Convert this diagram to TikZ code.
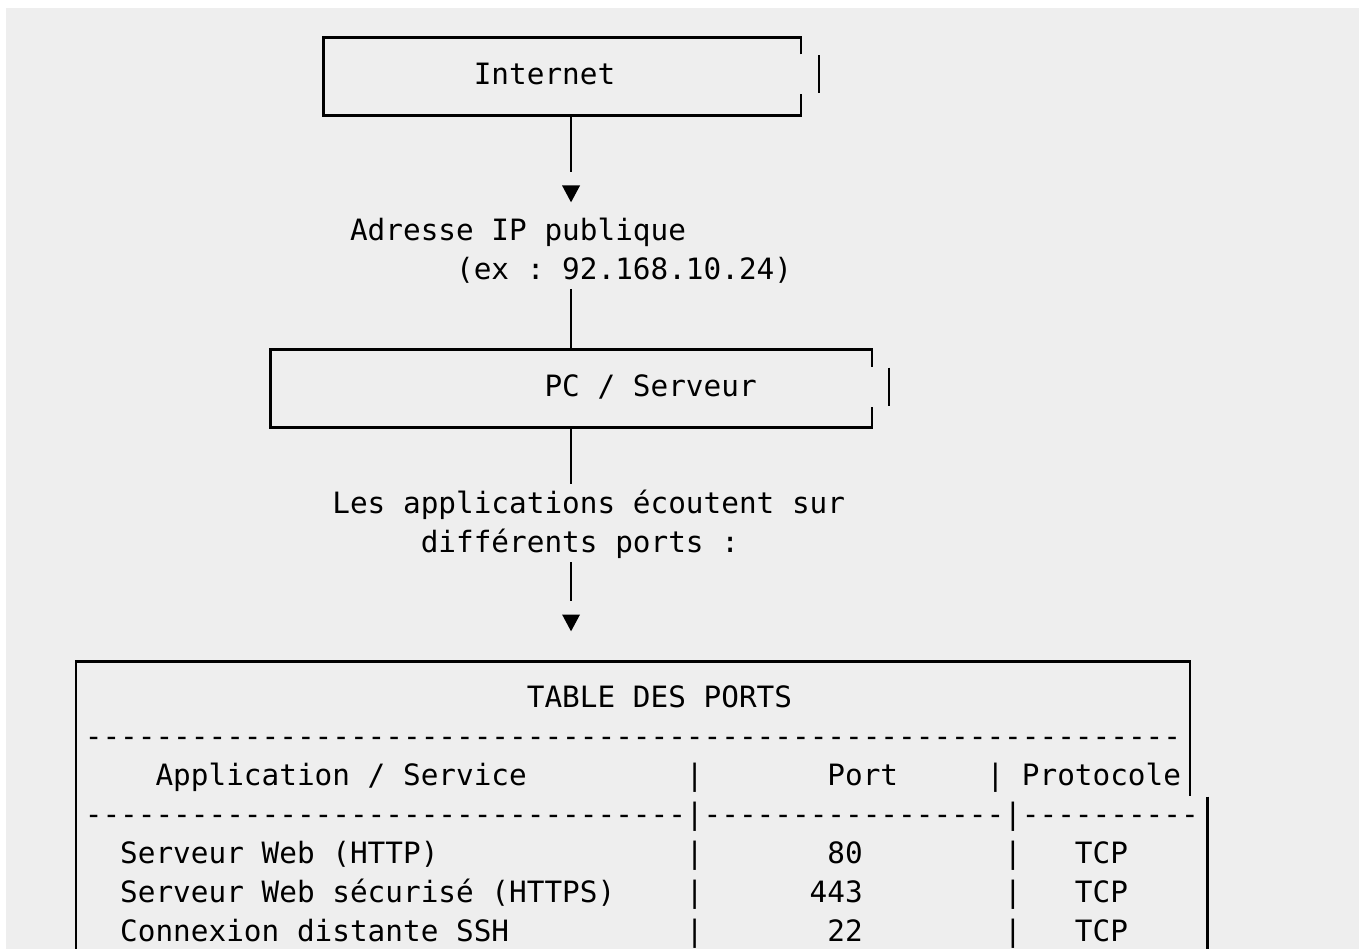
\documentclass[tikz,border=0pt]{standalone}
\usepackage{fontspec}
\setmonofont{DejaVu Sans Mono}[Ligatures=TeXOff]
\usetikzlibrary{calc}
\definecolor{bgray}{HTML}{EEEEEE}
\begin{document}
\begin{tikzpicture}[x=1pt,y=-1pt,
  boxline/.style={line width=2.1pt, line cap=butt, line join=miter, draw=black},
  conn/.style={line width=2.1pt, draw=black},
  monofont/.style={font=\ttfamily\fontsize{29.37}{39}\selectfont},
  txt/.style={monofont, anchor=base west, inner sep=0pt, outer sep=0pt, text=black},
  boxframe/.style={draw=none, rectangle, inner sep=0pt, outer sep=0pt},
  arrowfill/.style={fill=black}]
\useasboundingbox (0,0) rectangle (1359,949);
\fill[white] (0,0) rectangle (1359,949);
\fill[bgray] (6,8) rectangle (1359,949);

% ---- Internet box
\node[boxframe, minimum width=477.36pt, minimum height=78pt] (internet) at (562.2,76.5) {};
\node[txt] (tinternet) at (473.80,84.65) {Internet};
\draw[boxline] ($(internet.north east)+(0,17)$) -- (internet.north east) -- (internet.north west)
  -- (internet.south west) -- (internet.south east) -- ($(internet.south east)+(0,-21)$);
\draw[boxline] (818.56,55.5) -- (818.56,93.5);

% ---- connector 1
\coordinate (a1) at (571.04,172);
\draw[conn] (a1 |- internet.south) -- (a1);
\fill[arrowfill] (562.04,185.5) -- (580.04,185.5) -- (571.04,202.3) -- cycle;

\node[txt] (ip) at (350.04,240.45) {Adresse IP publique};
\node[txt] (ipex) at (456.12,279.4) {(ex : 92.168.10.24)};

% ---- PC box
\node[boxframe, minimum width=601.12pt, minimum height=78pt] (pc) at (571.04,388.5) {};
\coordinate (a2) at (571.04,289);
\draw[conn] (a2) -- (a2 |- pc.north);
\node[txt] (tpc) at (544.52,396.25) {PC / Serveur};
\draw[boxline] ($(pc.north east)+(0,17)$) -- (pc.north east) -- (pc.north west)
  -- (pc.south west) -- (pc.south east) -- ($(pc.south east)+(0,-21)$);
\draw[boxline] (889.28,367.5) -- (889.28,405.5);

% ---- connector 2
\coordinate (a3) at (571.04,484);
\draw[conn] (pc.south) -- (a3);
\node[txt] (apps1) at (332.36,513.1) {Les applications écoutent sur};
\node[txt] (apps2) at (420.76,552.05) {différents ports :};
\coordinate (a4) at (571.04,562);
\coordinate (a5) at (571.04,601);
\draw[conn] (a4) -- (a5);
\fill[arrowfill] (562.04,614.5) -- (580.04,614.5) -- (571.04,631.3) -- cycle;

% ---- Table
\node[boxframe, minimum width=1113.84pt, minimum height=287.5pt] (ports) at (632.92,805.25) {};
\draw[boxline] (ports.south west) -- (ports.north west) -- (ports.north east) -- ($(ports.north east)+(0,134)$);
\coordinate (rb) at (1207.52,796.5);
\draw[boxline] (rb) -- (rb |- ports.south);

\node[txt] (ttitle) at (526.84,707.85) {TABLE DES PORTS};
\node[txt] (dash1) at (84.84,746.8) {--------------------------------------------------------------};
\node[txt] (happ) at (155.56,785.75) {Application / Service};
\node[txt] (hsep1) at (685.96,785.75) {|};
\node[txt] (hport) at (827.40,785.75) {Port};
\node[txt] (hsep2) at (986.52,785.75) {|};
\node[txt] (hproto) at (1021.88,785.75) {Protocole};
\node[txt] (dash2) at (84.84,824.7) {----------------------------------|-----------------|----------};

\node[txt] (r1a) at (120.20,863.65) {Serveur Web (HTTP)};
\node[txt] (r1s1) at (685.96,863.65) {|};
\node[txt] (r1p) at (827.40,863.65) {80};
\node[txt] (r1s2) at (1004.20,863.65) {|};
\node[txt] (r1t) at (1074.92,863.65) {TCP};

\node[txt] (r2a) at (120.20,902.6) {Serveur Web sécurisé (HTTPS)};
\node[txt] (r2s1) at (685.96,902.6) {|};
\node[txt] (r2p) at (809.72,902.6) {443};
\node[txt] (r2s2) at (1004.20,902.6) {|};
\node[txt] (r2t) at (1074.92,902.6) {TCP};

\node[txt] (r3a) at (120.20,941.55) {Connexion distante SSH};
\node[txt] (r3s1) at (685.96,941.55) {|};
\node[txt] (r3p) at (827.40,941.55) {22};
\node[txt] (r3s2) at (1004.20,941.55) {|};
\node[txt] (r3t) at (1074.92,941.55) {TCP};
\end{tikzpicture}
\end{document}
